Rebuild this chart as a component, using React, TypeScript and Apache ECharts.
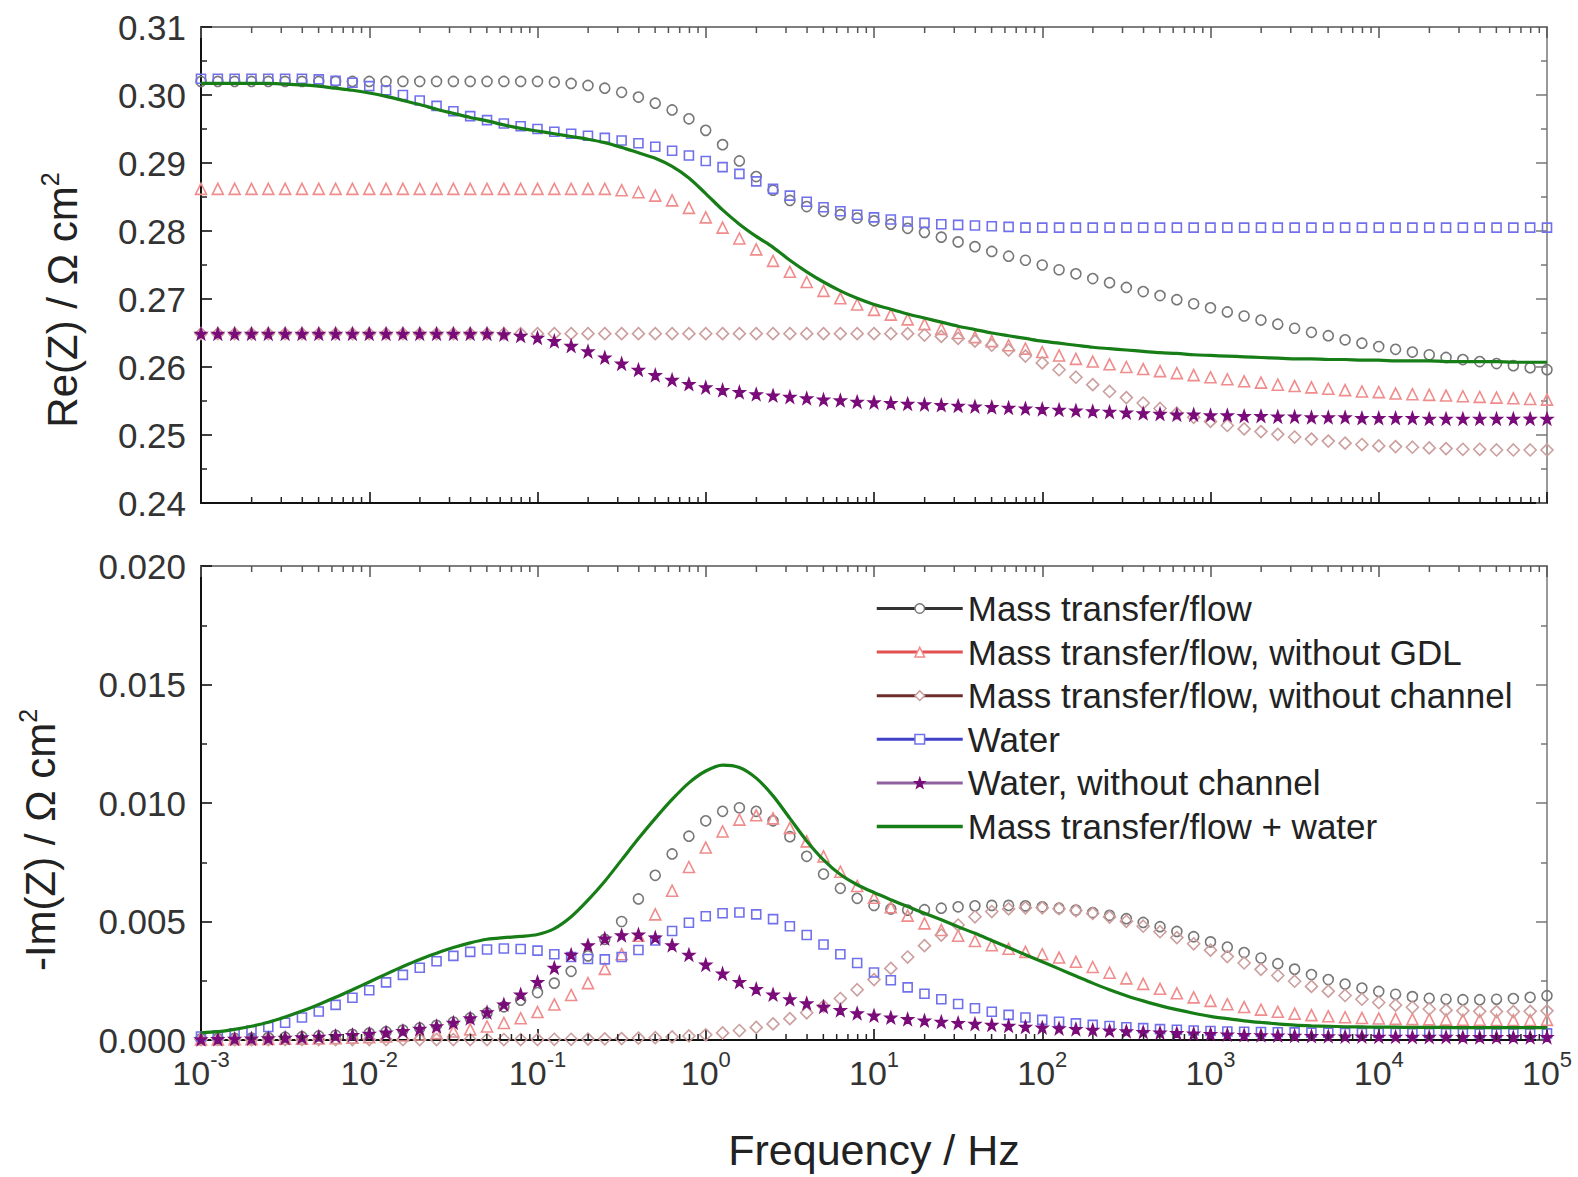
import React, { useEffect, useRef } from "react";
import * as echarts from "echarts";

const FONT = "'Liberation Sans', Arial, Helvetica, sans-serif";

// log10(frequency / Hz), sampled every 0.1 decade from 1e-3 to 1e5 Hz
const LOG_FREQ = [
  -3.0, -2.9, -2.8, -2.7, -2.6, -2.5, -2.4, -2.3, -2.2, -2.1,
  -2.0, -1.9, -1.8, -1.7, -1.6, -1.5, -1.4, -1.3, -1.2, -1.1,
  -1.0, -0.9, -0.8, -0.7, -0.6, -0.5, -0.4, -0.3, -0.2, -0.1,
  0.0, 0.1, 0.2, 0.3, 0.4, 0.5, 0.6, 0.7, 0.8, 0.9,
  1.0, 1.1, 1.2, 1.3, 1.4, 1.5, 1.6, 1.7, 1.8, 1.9,
  2.0, 2.1, 2.2, 2.3, 2.4, 2.5, 2.6, 2.7, 2.8, 2.9,
  3.0, 3.1, 3.2, 3.3, 3.4, 3.5, 3.6, 3.7, 3.8, 3.9,
  4.0, 4.1, 4.2, 4.3, 4.4, 4.5, 4.6, 4.7, 4.8, 4.9, 5.0,
];

const NAMES = [
  "Mass transfer/flow",
  "Mass transfer/flow, without GDL",
  "Mass transfer/flow, without channel",
  "Water",
  "Water, without channel",
  "Mass transfer/flow + water",
];

// ---------- Re(Z) / Ohm cm2 ----------
const RE_MT = [
  0.3020, 0.3020, 0.3020, 0.3020, 0.3020, 0.3020, 0.3020, 0.3020, 0.3020, 0.3020,
  0.3020, 0.3020, 0.3020, 0.3020, 0.3020, 0.3020, 0.3020, 0.3020, 0.3020, 0.3020,
  0.3020, 0.3019, 0.3017, 0.3014, 0.3010, 0.3004, 0.2997, 0.2988, 0.2978, 0.2965,
  0.2948, 0.2927, 0.2903, 0.2880, 0.2860, 0.2845, 0.2836, 0.2829, 0.2824, 0.2819,
  0.2815, 0.2810, 0.2804, 0.2798, 0.2791, 0.2784, 0.2777, 0.2770, 0.2763, 0.2757,
  0.2750, 0.2743, 0.2737, 0.2730, 0.2724, 0.2717, 0.2711, 0.2705, 0.2699, 0.2693,
  0.2687, 0.2681, 0.2675, 0.2669, 0.2663, 0.2657, 0.2651, 0.2646, 0.2640, 0.2635,
  0.2630, 0.2626, 0.2622, 0.2618, 0.2614, 0.2611, 0.2608, 0.2605, 0.2602, 0.2599, 0.2596,
];
const RE_NOGDL = [
  0.2862, 0.2862, 0.2862, 0.2862, 0.2862, 0.2862, 0.2862, 0.2862, 0.2862, 0.2862,
  0.2862, 0.2862, 0.2862, 0.2862, 0.2862, 0.2862, 0.2862, 0.2862, 0.2862, 0.2862,
  0.2862, 0.2862, 0.2862, 0.2862, 0.2862, 0.2860, 0.2857, 0.2852, 0.2845, 0.2834,
  0.2820, 0.2805, 0.2789, 0.2773, 0.2756, 0.2740, 0.2725, 0.2712, 0.2701, 0.2692,
  0.2684, 0.2677, 0.2670, 0.2663, 0.2656, 0.2650, 0.2644, 0.2638, 0.2632, 0.2627,
  0.2622, 0.2617, 0.2612, 0.2608, 0.2604, 0.2600, 0.2597, 0.2594, 0.2591, 0.2588,
  0.2585, 0.2582, 0.2579, 0.2577, 0.2574, 0.2572, 0.2570, 0.2568, 0.2566, 0.2564,
  0.2563, 0.2561, 0.2560, 0.2559, 0.2558, 0.2557, 0.2556, 0.2555, 0.2554, 0.2553, 0.2552,
];
const RE_NOCH = [
  0.2649, 0.2649, 0.2649, 0.2649, 0.2649, 0.2649, 0.2649, 0.2649, 0.2649, 0.2649,
  0.2649, 0.2649, 0.2649, 0.2649, 0.2649, 0.2649, 0.2649, 0.2649, 0.2649, 0.2649,
  0.2649, 0.2649, 0.2649, 0.2649, 0.2649, 0.2649, 0.2649, 0.2649, 0.2649, 0.2649,
  0.2649, 0.2649, 0.2649, 0.2649, 0.2649, 0.2649, 0.2649, 0.2649, 0.2649, 0.2649,
  0.2649, 0.2649, 0.2649, 0.2647, 0.2645, 0.2642, 0.2638, 0.2632, 0.2625, 0.2616,
  0.2606, 0.2596, 0.2585, 0.2574, 0.2564, 0.2555, 0.2547, 0.2539, 0.2532, 0.2526,
  0.2520, 0.2514, 0.2509, 0.2505, 0.2501, 0.2497, 0.2494, 0.2491, 0.2488, 0.2486,
  0.2484, 0.2483, 0.2482, 0.2481, 0.2480, 0.2479, 0.2479, 0.2478, 0.2478, 0.2478, 0.2478,
];
const RE_W = [
  0.3024, 0.3024, 0.3024, 0.3024, 0.3024, 0.3024, 0.3024, 0.3023, 0.3021, 0.3018,
  0.3013, 0.3007, 0.3000, 0.2992, 0.2984, 0.2976, 0.2969, 0.2963, 0.2958, 0.2954,
  0.2950, 0.2946, 0.2943, 0.2940, 0.2937, 0.2933, 0.2929, 0.2924, 0.2918, 0.2911,
  0.2903, 0.2894, 0.2884, 0.2873, 0.2862, 0.2852, 0.2843, 0.2835, 0.2829, 0.2824,
  0.2820, 0.2817, 0.2814, 0.2812, 0.2810, 0.2809, 0.2808, 0.2807, 0.2806, 0.2805,
  0.2805, 0.2805, 0.2805, 0.2805, 0.2805, 0.2805, 0.2805, 0.2805, 0.2805, 0.2805,
  0.2805, 0.2805, 0.2805, 0.2805, 0.2805, 0.2805, 0.2805, 0.2805, 0.2805, 0.2805,
  0.2805, 0.2805, 0.2805, 0.2805, 0.2805, 0.2805, 0.2805, 0.2805, 0.2805, 0.2805, 0.2805,
];
const RE_WNOCH = [
  0.2649, 0.2649, 0.2649, 0.2649, 0.2649, 0.2649, 0.2649, 0.2649, 0.2649, 0.2649,
  0.2649, 0.2649, 0.2649, 0.2649, 0.2649, 0.2649, 0.2649, 0.2649, 0.2648, 0.2646,
  0.2643, 0.2638, 0.2631, 0.2623, 0.2614, 0.2605, 0.2596, 0.2588, 0.2581, 0.2575,
  0.2570, 0.2566, 0.2563, 0.2560, 0.2558, 0.2556, 0.2554, 0.2552, 0.2551, 0.2549,
  0.2548, 0.2547, 0.2546, 0.2545, 0.2544, 0.2543, 0.2542, 0.2541, 0.2540, 0.2539,
  0.2538, 0.2537, 0.2536, 0.2535, 0.2534, 0.2533, 0.2532, 0.2531, 0.2530, 0.2530,
  0.2529, 0.2529, 0.2528, 0.2528, 0.2527, 0.2527, 0.2526, 0.2526, 0.2526, 0.2525,
  0.2525, 0.2525, 0.2525, 0.2524, 0.2524, 0.2524, 0.2524, 0.2524, 0.2524, 0.2524, 0.2524,
];
const RE_MTW = [
  0.3017, 0.3017, 0.3017, 0.3017, 0.3017, 0.3016, 0.3015, 0.3013, 0.3010, 0.3007,
  0.3003, 0.2998, 0.2992, 0.2986, 0.2979, 0.2973, 0.2967, 0.2962, 0.2956, 0.2951,
  0.2947, 0.2943, 0.2939, 0.2935, 0.2930, 0.2923, 0.2915, 0.2907, 0.2895, 0.2878,
  0.2855, 0.2831, 0.2810, 0.2792, 0.2776, 0.2757, 0.2740, 0.2725, 0.2712, 0.2701,
  0.2692, 0.2685, 0.2678, 0.2672, 0.2666, 0.2660, 0.2655, 0.2650, 0.2646, 0.2642,
  0.2638, 0.2635, 0.2632, 0.2629, 0.2627, 0.2625, 0.2623, 0.2621, 0.2620, 0.2618,
  0.2617, 0.2616, 0.2615, 0.2614, 0.2613, 0.2612, 0.2612, 0.2611, 0.2611, 0.2610,
  0.2610, 0.2609, 0.2609, 0.2609, 0.2608, 0.2608, 0.2608, 0.2608, 0.2607, 0.2607, 0.2607,
];

// ---------- -Im(Z) / Ohm cm2 ----------
const IM_MT = [
  0.00005, 0.00006, 0.00007, 0.00008, 0.00010, 0.00012, 0.00014, 0.00017, 0.00020, 0.00024,
  0.00029, 0.00035, 0.00042, 0.00051, 0.00062, 0.00076, 0.00093, 0.00114, 0.00140, 0.00168,
  0.00200, 0.00240, 0.00290, 0.00355, 0.00425, 0.00500, 0.00595, 0.00695, 0.00785, 0.00860,
  0.00925, 0.00965, 0.00980, 0.00965, 0.00925, 0.00858, 0.00775, 0.00700, 0.00640, 0.00598,
  0.00568, 0.00553, 0.00548, 0.00550, 0.00556, 0.00562, 0.00566, 0.00568, 0.00568, 0.00566,
  0.00562, 0.00556, 0.00548, 0.00538, 0.00526, 0.00512, 0.00496, 0.00478, 0.00458, 0.00436,
  0.00414, 0.00392, 0.00369, 0.00346, 0.00322, 0.00299, 0.00276, 0.00255, 0.00236, 0.00219,
  0.00205, 0.00193, 0.00183, 0.00176, 0.00172, 0.00170, 0.00170, 0.00172, 0.00175, 0.00180, 0.00187,
];
const IM_NOGDL = [
  0.00002, 0.00002, 0.00003, 0.00003, 0.00004, 0.00005, 0.00006, 0.00007, 0.00008, 0.00010,
  0.00012, 0.00015, 0.00019, 0.00023, 0.00029, 0.00036, 0.00045, 0.00057, 0.00072, 0.00092,
  0.00118, 0.00150, 0.00190, 0.00240, 0.00300, 0.00362, 0.00440, 0.00530, 0.00630, 0.00730,
  0.00812, 0.00880, 0.00930, 0.00948, 0.00935, 0.00895, 0.00838, 0.00775, 0.00710, 0.00650,
  0.00600, 0.00560, 0.00525, 0.00492, 0.00464, 0.00440, 0.00418, 0.00400, 0.00385, 0.00372,
  0.00362, 0.00348, 0.00330, 0.00308, 0.00284, 0.00260, 0.00237, 0.00216, 0.00197, 0.00180,
  0.00165, 0.00151, 0.00139, 0.00128, 0.00119, 0.00111, 0.00105, 0.00100, 0.00096, 0.00093,
  0.00091, 0.00089, 0.00088, 0.00087, 0.00086, 0.00085, 0.00085, 0.00084, 0.00084, 0.00084, 0.00085,
];
const IM_NOCH = [
  0.00002, 0.00002, 0.00002, 0.00002, 0.00002, 0.00002, 0.00002, 0.00002, 0.00002, 0.00002,
  0.00002, 0.00002, 0.00002, 0.00002, 0.00002, 0.00002, 0.00002, 0.00002, 0.00002, 0.00002,
  0.00002, 0.00003, 0.00003, 0.00004, 0.00005, 0.00006, 0.00008, 0.00010, 0.00013, 0.00017,
  0.00022, 0.00030, 0.00040, 0.00053, 0.00068, 0.00090, 0.00115, 0.00143, 0.00175, 0.00212,
  0.00255, 0.00302, 0.00350, 0.00398, 0.00443, 0.00485, 0.00520, 0.00542, 0.00553, 0.00558,
  0.00558, 0.00554, 0.00546, 0.00534, 0.00519, 0.00501, 0.00480, 0.00457, 0.00432, 0.00406,
  0.00379, 0.00352, 0.00325, 0.00298, 0.00272, 0.00248, 0.00226, 0.00206, 0.00188, 0.00172,
  0.00158, 0.00147, 0.00138, 0.00131, 0.00126, 0.00123, 0.00121, 0.00120, 0.00120, 0.00121, 0.00123,
];
const IM_W = [
  0.00015, 0.00020, 0.00028, 0.00040, 0.00055, 0.00073, 0.00095, 0.00120, 0.00148, 0.00178,
  0.00210, 0.00243, 0.00275, 0.00305, 0.00332, 0.00355, 0.00372, 0.00382, 0.00386, 0.00384,
  0.00377, 0.00362, 0.00350, 0.00342, 0.00340, 0.00350, 0.00380, 0.00420, 0.00460, 0.00495,
  0.00522, 0.00535, 0.00538, 0.00530, 0.00510, 0.00480, 0.00443, 0.00403, 0.00362, 0.00325,
  0.00285, 0.00252, 0.00222, 0.00195, 0.00172, 0.00152, 0.00134, 0.00119, 0.00106, 0.00095,
  0.00085, 0.00077, 0.00070, 0.00064, 0.00059, 0.00054, 0.00050, 0.00046, 0.00043, 0.00040,
  0.00038, 0.00036, 0.00035, 0.00034, 0.00033, 0.00032, 0.00031, 0.00031, 0.00030, 0.00030,
  0.00030, 0.00030, 0.00029, 0.00029, 0.00029, 0.00029, 0.00028, 0.00028, 0.00028, 0.00028, 0.00028,
];
const IM_WNOCH = [
  0.00003, 0.00004, 0.00005, 0.00006, 0.00007, 0.00009, 0.00011, 0.00014, 0.00017, 0.00021,
  0.00026, 0.00031, 0.00038, 0.00047, 0.00058, 0.00073, 0.00092, 0.00117, 0.00150, 0.00192,
  0.00245, 0.00305, 0.00360, 0.00400, 0.00428, 0.00442, 0.00445, 0.00432, 0.00400, 0.00360,
  0.00318, 0.00280, 0.00245, 0.00215, 0.00192, 0.00172, 0.00155, 0.00140, 0.00126, 0.00113,
  0.00103, 0.00095, 0.00088, 0.00082, 0.00077, 0.00072, 0.00068, 0.00064, 0.00060, 0.00056,
  0.00053, 0.00049, 0.00046, 0.00043, 0.00040, 0.00037, 0.00034, 0.00031, 0.00029, 0.00027,
  0.00025, 0.00023, 0.00021, 0.00020, 0.00019, 0.00018, 0.00017, 0.00016, 0.00015, 0.00015,
  0.00014, 0.00014, 0.00013, 0.00013, 0.00013, 0.00012, 0.00012, 0.00012, 0.00012, 0.00012, 0.00012,
];
const IM_MTW = [
  0.00030, 0.00035, 0.00045, 0.00058, 0.00075, 0.00097, 0.00122, 0.00150, 0.00180, 0.00212,
  0.00245, 0.00278, 0.00310, 0.00340, 0.00366, 0.00390, 0.00410, 0.00425, 0.00432, 0.00437,
  0.00445, 0.00470, 0.00520, 0.00590, 0.00670, 0.00760, 0.00850, 0.00935, 0.01015, 0.01085,
  0.01135, 0.01160, 0.01150, 0.01105, 0.01030, 0.00935, 0.00840, 0.00760, 0.00698, 0.00655,
  0.00622, 0.00592, 0.00563, 0.00535, 0.00507, 0.00478, 0.00450, 0.00420, 0.00390, 0.00360,
  0.00330, 0.00300, 0.00270, 0.00240, 0.00212, 0.00187, 0.00165, 0.00145, 0.00128, 0.00113,
  0.00100, 0.00090, 0.00081, 0.00074, 0.00068, 0.00063, 0.00060, 0.00058, 0.00056, 0.00055,
  0.00054, 0.00054, 0.00053, 0.00053, 0.00053, 0.00052, 0.00052, 0.00052, 0.00052, 0.00052, 0.00052,
];

const STAR =
  "path://M0,-10 L2.35,-3.24 L9.51,-3.09 L3.8,1.24 L5.88,8.09 L0,4 L-5.88,8.09 L-3.8,1.24 L-9.51,-3.09 L-2.35,-3.24 Z";

type MarkerDef = {
  name: string;
  re: number[];
  im: number[];
  symbol: string;
  size: number;
  color: string;
  fill: string;
  legendLine: string;
};

const MARKERS: MarkerDef[] = [
  { name: NAMES[0], re: RE_MT, im: IM_MT, symbol: "circle", size: 10, color: "#777777", fill: "rgba(255,255,255,0)", legendLine: "#333333" },
  { name: NAMES[1], re: RE_NOGDL, im: IM_NOGDL, symbol: "triangle", size: 11, color: "#f08c8c", fill: "rgba(255,255,255,0)", legendLine: "#e25050" },
  { name: NAMES[2], re: RE_NOCH, im: IM_NOCH, symbol: "diamond", size: 12, color: "#cc9e9e", fill: "rgba(255,255,255,0)", legendLine: "#6e2c2c" },
  { name: NAMES[3], re: RE_W, im: IM_W, symbol: "rect", size: 9, color: "#7070ec", fill: "rgba(255,255,255,0)", legendLine: "#4040c8" },
  { name: NAMES[4], re: RE_WNOCH, im: IM_WNOCH, symbol: STAR, size: 11, color: "#7a0c7a", fill: "#7a0c7a", legendLine: "#9060a0" },
];
const GREEN = "#177d17";

// minor ticks of the logarithmic frequency axis (axis decoration)
const MINOR_X: number[] = [];
for (let n = -3; n < 5; n++) for (let k = 2; k < 10; k++) MINOR_X.push(n + Math.log10(k));

const PANELS = [
  { min: 0.24, max: 0.31, interval: 0.01, digits: 2 },
  { min: 0, max: 0.02, interval: 0.005, digits: 3 },
];

function buildOption(): any {
  const grid = [
    { left: 201, top: 27, width: 1346, height: 476 },
    { left: 201, top: 566, width: 1346, height: 474 },
  ];
  const xAxis: any[] = [];
  const yAxis: any[] = [];
  PANELS.forEach((p, gi) => {
    const base = {
      type: "value",
      gridIndex: gi,
      min: -3,
      max: 5,
      interval: 1,
      splitLine: { show: false },
    };
    xAxis.push({
      ...base,
      position: "bottom",
      axisLine: { onZero: false, lineStyle: { color: "#111", width: 2 } },
      axisTick: { inside: true, length: 11, lineStyle: { color: "#111", width: 1.6 } },
      axisLabel: {
        show: gi === 1,
        margin: 8,
        formatter: (v: number) => `{b|10}{s|${Math.round(v)}}`,
        rich: {
          b: { fontSize: 34, fontFamily: FONT, color: "#333", lineHeight: 42, verticalAlign: "bottom" },
          s: { fontSize: 22, fontFamily: FONT, color: "#333", lineHeight: 22, verticalAlign: "top" },
        },
      },
    });
    xAxis.push({
      ...base,
      position: "top",
      axisLine: { onZero: false, lineStyle: { color: "#555", width: 1.5 } },
      axisTick: { inside: true, length: 11, lineStyle: { color: "#555", width: 1.5 } },
      axisLabel: { show: false },
    });
    const ybase = {
      type: "value",
      gridIndex: gi,
      min: p.min,
      max: p.max,
      interval: p.interval,
      splitLine: { show: false },
    };
    yAxis.push({
      ...ybase,
      position: "left",
      axisLine: { show: true, onZero: false, lineStyle: { color: "#111", width: 2 } },
      axisTick: { show: true, inside: true, length: 11, lineStyle: { color: "#111", width: 1.6 } },
      minorTick: { show: true, splitNumber: 2, length: 6, lineStyle: { color: "#222", width: 1.5 } },
      axisLabel: {
        margin: 15,
        fontSize: 35,
        fontFamily: FONT,
        color: "#333",
        formatter: (v: number) => v.toFixed(p.digits),
      },
    });
    yAxis.push({
      ...ybase,
      position: "right",
      axisLine: { show: true, onZero: false, lineStyle: { color: "#777", width: 1.5 } },
      axisTick: { show: true, inside: true, length: 11, lineStyle: { color: "#777", width: 1.5 } },
      minorTick: { show: true, splitNumber: 2, length: 6, lineStyle: { color: "#777", width: 1.5 } },
      axisLabel: { show: false },
    });
  });

  const series: any[] = [];
  PANELS.forEach((p, gi) => {
    MARKERS.forEach((m, mi) => {
      const vals = gi === 0 ? m.re : m.im;
      series.push({
        type: "line",
        name: m.name,
        xAxisIndex: gi * 2,
        yAxisIndex: gi * 2,
        data: LOG_FREQ.map((x, i) => [x, vals[i]]),
        symbol: m.symbol,
        symbolSize: m.size,
        showSymbol: true,
        lineStyle: { width: 0, opacity: 0 },
        itemStyle: { color: m.fill, borderColor: m.color, borderWidth: 1.6 },
        silent: true,
        z: 2 + mi,
      });
    });
    series.push({
      type: "line",
      name: NAMES[5],
      xAxisIndex: gi * 2,
      yAxisIndex: gi * 2,
      data: LOG_FREQ.map((x, i) => [x, (gi === 0 ? RE_MTW : IM_MTW)[i]]),
      symbol: "none",
      showSymbol: false,
      smooth: 0.3,
      lineStyle: { width: 3.2, color: GREEN },
      itemStyle: { color: GREEN },
      silent: true,
      z: 9,
    });
    series.push({
      type: "custom",
      xAxisIndex: gi * 2,
      yAxisIndex: gi * 2,
      data: MINOR_X.map((x) => [x, p.min]),
      silent: true,
      clip: false,
      z: 20,
      renderItem: (_params: any, api: any) => {
        const x = api.value(0);
        const b = api.coord([x, p.min]);
        const t = api.coord([x, p.max]);
        return {
          type: "group",
          children: [
            { type: "line", shape: { x1: b[0], y1: b[1], x2: b[0], y2: b[1] - 6 }, style: { stroke: "#222", lineWidth: 1.5 } },
            { type: "line", shape: { x1: t[0], y1: t[1], x2: t[0], y2: t[1] + 6 }, style: { stroke: "#555", lineWidth: 1.5 } },
          ],
        };
      },
    });
  });

  const legendData: any[] = MARKERS.map((m) => ({
    name: m.name,
    lineStyle: { color: m.legendLine, width: 3, opacity: 1 },
    itemStyle: { color: m.fill === m.color ? m.color : "#ffffff", borderColor: m.color, borderWidth: 1.5, opacity: 1 },
  }));
  legendData.push({
    name: NAMES[5],
    lineStyle: { color: GREEN, width: 3.5, opacity: 1 },
    itemStyle: { color: "rgba(0,0,0,0)", borderColor: "rgba(0,0,0,0)", borderWidth: 0 },
  });

  const rich = (size: number) => ({
    a: { fontSize: size, fontFamily: FONT, fill: "#222", lineHeight: size + 8 },
    s: { fontSize: Math.round(size * 0.6), fontFamily: FONT, fill: "#222", lineHeight: Math.round(size * 0.6), verticalAlign: "top" },
  });

  return {
    animation: false,
    backgroundColor: "#ffffff",
    grid,
    xAxis,
    yAxis,
    series,
    legend: {
      orient: "vertical",
      left: 870,
      top: 586,
      itemWidth: 86,
      itemHeight: 12,
      itemGap: 8.6,
      selectedMode: false,
      textStyle: { fontSize: 35, lineHeight: 34, fontFamily: FONT, color: "#222" },
      data: legendData,
    },
    graphic: [
      {
        type: "text",
        x: 62,
        y: 300,
        rotation: Math.PI / 2,
        style: { text: "{a|Re(Z) / Ω cm}{s|2}", rich: rich(42), align: "center", verticalAlign: "middle" },
      },
      {
        type: "text",
        x: 40,
        y: 840,
        rotation: Math.PI / 2,
        style: { text: "{a|-Im(Z) / Ω cm}{s|2}", rich: rich(42), align: "center", verticalAlign: "middle" },
      },
      {
        type: "text",
        x: 874,
        y: 1150,
        style: { text: "Frequency / Hz", fontSize: 43, fontFamily: FONT, fill: "#222", align: "center", verticalAlign: "middle" },
      },
    ],
  };
}

export default function App() {
  const ref = useRef<HTMLDivElement>(null);
  useEffect(() => {
    document.body.style.margin = "0";
    const chart = echarts.init(ref.current as HTMLDivElement, null, { renderer: "svg" });
    chart.setOption(buildOption());
    return () => chart.dispose();
  }, []);
  return <div ref={ref} style={{ width: 1578, height: 1177 }} />;
}
